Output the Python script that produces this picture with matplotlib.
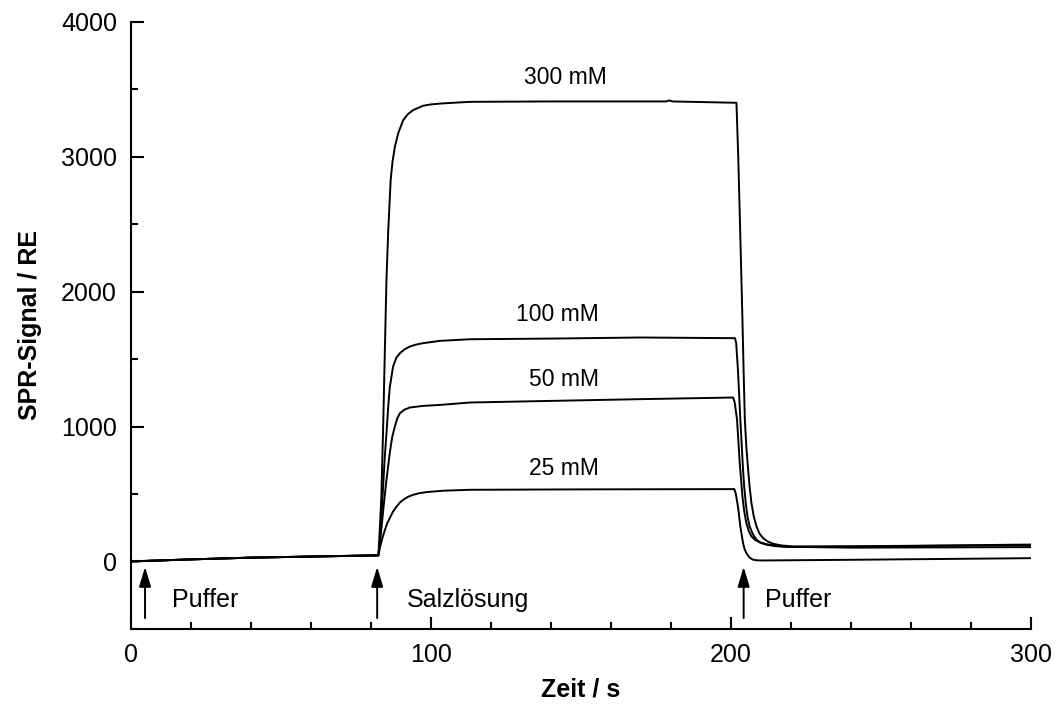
import matplotlib.pyplot as plt
from matplotlib.ticker import MultipleLocator

plt.rcParams['font.family'] = ['Liberation Sans', 'DejaVu Sans']

# SPR sensorgrams for salt solutions of different concentration
# time in s, signal in RE
t_300 = [0, 20, 40, 60, 82.5, 83.0, 83.5, 84.1, 84.6, 85.2, 85.8, 86.6, 87.2, 88,
         89.2, 90.8, 92.3, 94.1, 97.4, 100, 103.6, 113, 140, 178.5, 179.5, 180.5,
         201.9, 202.5, 203.2, 203.9, 204.3, 204.7, 205.2, 205.8, 206.3, 206.9,
         207.7, 208.6, 209.6, 210.8, 212.3, 214.1, 217, 220.8, 240, 270, 300]
s_300 = [0, 15, 28, 36, 45, 250, 480, 1000, 1500, 2087, 2457, 2827, 2960, 3074,
         3180, 3272, 3315, 3346, 3378, 3388, 3395, 3407, 3410, 3410, 3418, 3410,
         3400, 3000, 2400, 1790, 1400, 1050, 850, 679, 550, 433,
         330, 259, 205, 173, 148, 131, 118, 111, 112, 118, 125]

t_100 = [0, 20, 40, 60, 82.5, 83, 83.5, 84, 84.6, 85.2, 85.8, 86.3, 87.4, 88.5,
         89.7, 91.2, 93, 95, 97.4, 103, 113, 140, 170, 201.4, 201.8, 202.4,
         203.2, 204.1, 204.5, 205, 205.6, 206.3, 207.4, 208.6, 210, 211.9, 215,
         218.6, 240, 270, 300]
s_100 = [0, 15, 28, 36, 45, 150, 320, 520, 760, 950, 1150, 1290, 1444, 1510,
         1544, 1572, 1593, 1607, 1618, 1635, 1647, 1652, 1660, 1655, 1620, 1420,
         1050, 679, 550, 433, 330, 259, 200, 161, 138, 124, 113,
         107, 110, 116, 120]

t_50 = [0, 20, 40, 60, 82.5, 83, 83.5, 84.3, 85.2, 86.3, 87.1, 88, 88.8, 89.7,
        91.2, 93, 97.4, 103, 113, 140, 170, 200.8, 201.3, 202.1, 203, 203.9,
        204.5, 205.2, 206, 206.9, 208.2, 209.7, 212, 215.2, 220, 240, 270, 300]
s_50 = [0, 15, 28, 36, 45, 130, 240, 420, 605, 803, 920, 1000, 1060, 1099,
        1125, 1141, 1153, 1160, 1178, 1190, 1203, 1215, 1180, 1050, 729, 481,
        370, 284, 225, 185, 158, 141, 127, 116, 108, 102, 104, 106]

t_25 = [0, 20, 40, 60, 82.5, 83, 83.8, 84.7, 85.5, 86.3, 87.4, 88.6, 89.7, 90.8,
        92.3, 94.1, 96, 98.6, 104, 113, 150, 201.2, 201.7, 202.4, 203.2, 204.1,
        204.6, 205.2, 206.2, 207.4, 208.8, 210.8, 240, 270, 300]
s_25 = [0, 15, 28, 36, 45, 100, 170, 235, 285, 321, 370, 407, 437, 457,
        478, 494, 505, 514, 524, 531, 534, 536, 500, 407, 259, 136,
        92, 62, 30, 13, 8, 7, 12, 18, 24]

curve_labels = ['300 mM', '100 mM', '50 mM', '25 mM']
label_x = [144.7, 142.3, 144.3, 144.3]
label_y = [3590, 1830, 1346, 687]

arrow_x = [4.7, 82.1, 204.3]
phase_labels = ['Puffer', 'Salzlösung', 'Puffer']
phase_x = [13.7, 92.0, 211.3]

fig = plt.figure(figsize=(10.56, 7.05), dpi=100)
ax = fig.add_axes([0.124, 0.108, 0.852, 0.861])

for t, s in [(t_300, s_300), (t_100, s_100), (t_50, s_50), (t_25, s_25)]:
    ax.plot(t, s, color='black', lw=1.4, solid_joinstyle='round')

for txt, x, y in zip(curve_labels, label_x, label_y):
    ax.text(x, y, txt, ha='center', va='center', fontsize=16.5)

for x in arrow_x:
    ax.annotate('', xy=(x, -40), xytext=(x, -420),
                arrowprops=dict(arrowstyle='-|>,head_length=0.6,head_width=0.18',
                                color='black', lw=1.4, mutation_scale=20,
                                shrinkA=0, shrinkB=0))

for txt, x in zip(phase_labels, phase_x):
    ax.text(x, -285, txt, ha='left', va='center', fontsize=18)

ax.set_xlim(0, 300)
ax.set_ylim(-500, 4000)
ax.xaxis.set_major_locator(MultipleLocator(100))
ax.xaxis.set_minor_locator(MultipleLocator(20))
ax.yaxis.set_major_locator(MultipleLocator(1000))
ax.yaxis.set_minor_locator(MultipleLocator(500))
ax.tick_params(which='both', direction='in', width=1.5, labelsize=18)
ax.tick_params(which='major', length=9, pad=10)
ax.tick_params(which='minor', length=5)

for side in ('top', 'right'):
    ax.spines[side].set_visible(False)
for side in ('left', 'bottom'):
    ax.spines[side].set_linewidth(1.5)

ax.set_xlabel('Zeit / s', fontsize=18, fontweight='bold', labelpad=8)
ax.set_ylabel('SPR-Signal / RE', fontsize=18, fontweight='bold', labelpad=14)

fig.savefig('out.png', dpi=100)
